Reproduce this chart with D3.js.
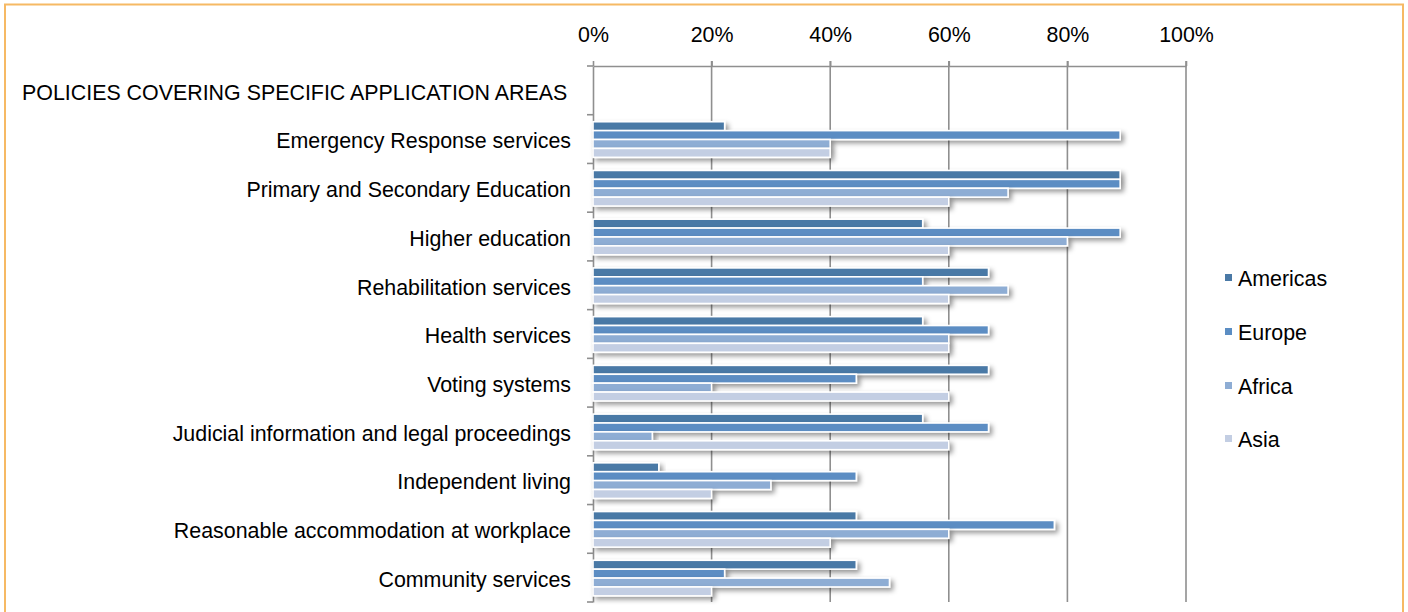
<!DOCTYPE html>
<html>
<head>
<meta charset="utf-8">
<script src="https://cdn.jsdelivr.net/npm/d3@7"></script>
<style>
  html, body { margin: 0; padding: 0; background: #fff; }
  svg { display: block; }
  text { font-family: "Liberation Sans", Arial, Helvetica, sans-serif; fill: #000; }
</style>
</head>
<body>
<svg id="chart" width="1408" height="612"></svg>
<script>
const header = "POLICIES COVERING SPECIFIC APPLICATION AREAS";
const categories = [
  "Emergency Response services",
  "Primary and Secondary Education",
  "Higher education",
  "Rehabilitation services",
  "Health services",
  "Voting systems",
  "Judicial information and legal proceedings",
  "Independent living",
  "Reasonable accommodation at workplace",
  "Community services"
];
const seriesNames = ["Americas", "Europe", "Africa", "Asia"];
const americas = [22.2, 88.9, 55.6, 66.7, 55.6, 66.7, 55.6, 11.1, 44.4, 44.4];
const europe   = [88.9, 88.9, 88.9, 55.6, 66.7, 44.4, 66.7, 44.4, 77.8, 22.2];
const africa   = [40, 70, 80, 70, 60, 20, 10, 30, 60, 50];
const asia     = [40, 60, 60, 60, 60, 60, 60, 20, 40, 20];
const seriesColors = ["#4a79a6", "#5b8dc3", "#8eadd4", "#c3cee3"];
const tickValues = [0, 20, 40, 60, 80, 100];
const tickLabels = ["0%", "20%", "40%", "60%", "80%", "100%"];

const seriesValues = [americas, europe, africa, asia];
const svg = d3.select("#chart");
const FS = 21.4;

// frame
svg.append("path")
  .attr("d", "M5,612 V4.5 H1403 V612")
  .attr("fill", "none")
  .attr("stroke", "#f6b964")
  .attr("stroke-width", 2);

const defs = svg.append("defs");
const f = defs.append("filter").attr("id", "shadow")
  .attr("x", "-5%").attr("y", "-100%").attr("width", "115%").attr("height", "400%");
f.append("feDropShadow")
  .attr("dx", 3).attr("dy", 3).attr("stdDeviation", 2.4)
  .attr("flood-color", "#000").attr("flood-opacity", 0.4);

const x = d3.scaleLinear().domain([0, 100]).range([593, 1186]);
const y = d3.scaleBand().domain([header, ...categories]).range([66, 602]).padding(0);
const sub = d3.scaleBand().domain(seriesNames).range([7, 7 + 35.6]).padding(0);

// gridlines
svg.append("g").selectAll("line").data(tickValues.slice(1)).join("line")
  .attr("x1", d => x(d)).attr("x2", d => x(d))
  .attr("y1", 61).attr("y2", 602)
  .attr("stroke", "#8f8f8f").attr("stroke-width", 1.6);

// top axis
const topAxis = d3.axisTop(x).tickValues(tickValues)
  .tickFormat((d, i) => tickLabels[i]).tickSize(5).tickSizeOuter(0);
const gTop = svg.append("g").attr("transform", "translate(0,66)").call(topAxis);
gTop.select(".domain").attr("stroke", "#8f8f8f").attr("stroke-width", 1.6);
gTop.selectAll(".tick line").attr("stroke", "#8f8f8f").attr("stroke-width", 1.6);
gTop.selectAll(".tick text")
  .attr("y", -24).attr("dy", 0)
  .style("font-size", FS + "px")
  .style("font-family", '"Liberation Sans", Arial, Helvetica, sans-serif')
  .attr("fill", "#000");

// left axis
const leftAxis = d3.axisLeft(y).tickFormat("").tickSize(0).tickSizeOuter(0);
const gLeft = svg.append("g").attr("transform", "translate(593,0)").call(leftAxis);
gLeft.select(".domain").attr("stroke", "#8f8f8f").attr("stroke-width", 1.6);
gLeft.selectAll(".tick").remove();
const boundaries = y.domain().map(d => y(d) + y.bandwidth()).concat([y(header)]);
gLeft.selectAll("line.bt").data(boundaries).join("line").attr("class", "bt")
  .attr("x1", -6).attr("x2", 0)
  .attr("y1", d => d).attr("y2", d => d)
  .attr("stroke", "#8f8f8f").attr("stroke-width", 1.6);

// category labels
svg.append("text")
  .attr("x", 22).attr("y", y(header) + y.bandwidth() / 2 + 9.3)
  .attr("text-anchor", "start")
  .style("font-size", FS + "px")
  .text(header);
svg.append("g").selectAll("text").data(categories).join("text")
  .attr("x", 571)
  .attr("y", d => y(d) + y.bandwidth() / 2 + 9.3)
  .attr("text-anchor", "end")
  .style("font-size", FS + "px")
  .text(d => d);

// bars
const barData = [];
categories.forEach((c, i) => {
  seriesNames.forEach((s, j) => {
    barData.push({ cat: c, series: s, value: seriesValues[j][i], color: seriesColors[j] });
  });
});
svg.append("g").selectAll("rect").data(barData).join("rect")
  .attr("x", x(0))
  .attr("y", d => y(d.cat) + sub(d.series))
  .attr("width", d => x(d.value) - x(0))
  .attr("height", sub.bandwidth())
  .attr("fill", d => d.color)
  .attr("stroke", "#fff")
  .attr("stroke-width", 1.6)
  .attr("filter", "url(#shadow)");

// legend
const legendY = [278, 332, 386, 439];
const lg = svg.append("g").selectAll("g").data(seriesNames).join("g")
  .attr("transform", (d, i) => `translate(1225,${legendY[i]})`);
lg.append("rect")
  .attr("x", 0).attr("y", -4).attr("width", 7).attr("height", 7)
  .attr("fill", (d, i) => seriesColors[i]);
lg.append("text")
  .attr("x", 13).attr("y", 7.5)
  .style("font-size", FS + "px")
  .text(d => d);
</script>
</body>
</html>
